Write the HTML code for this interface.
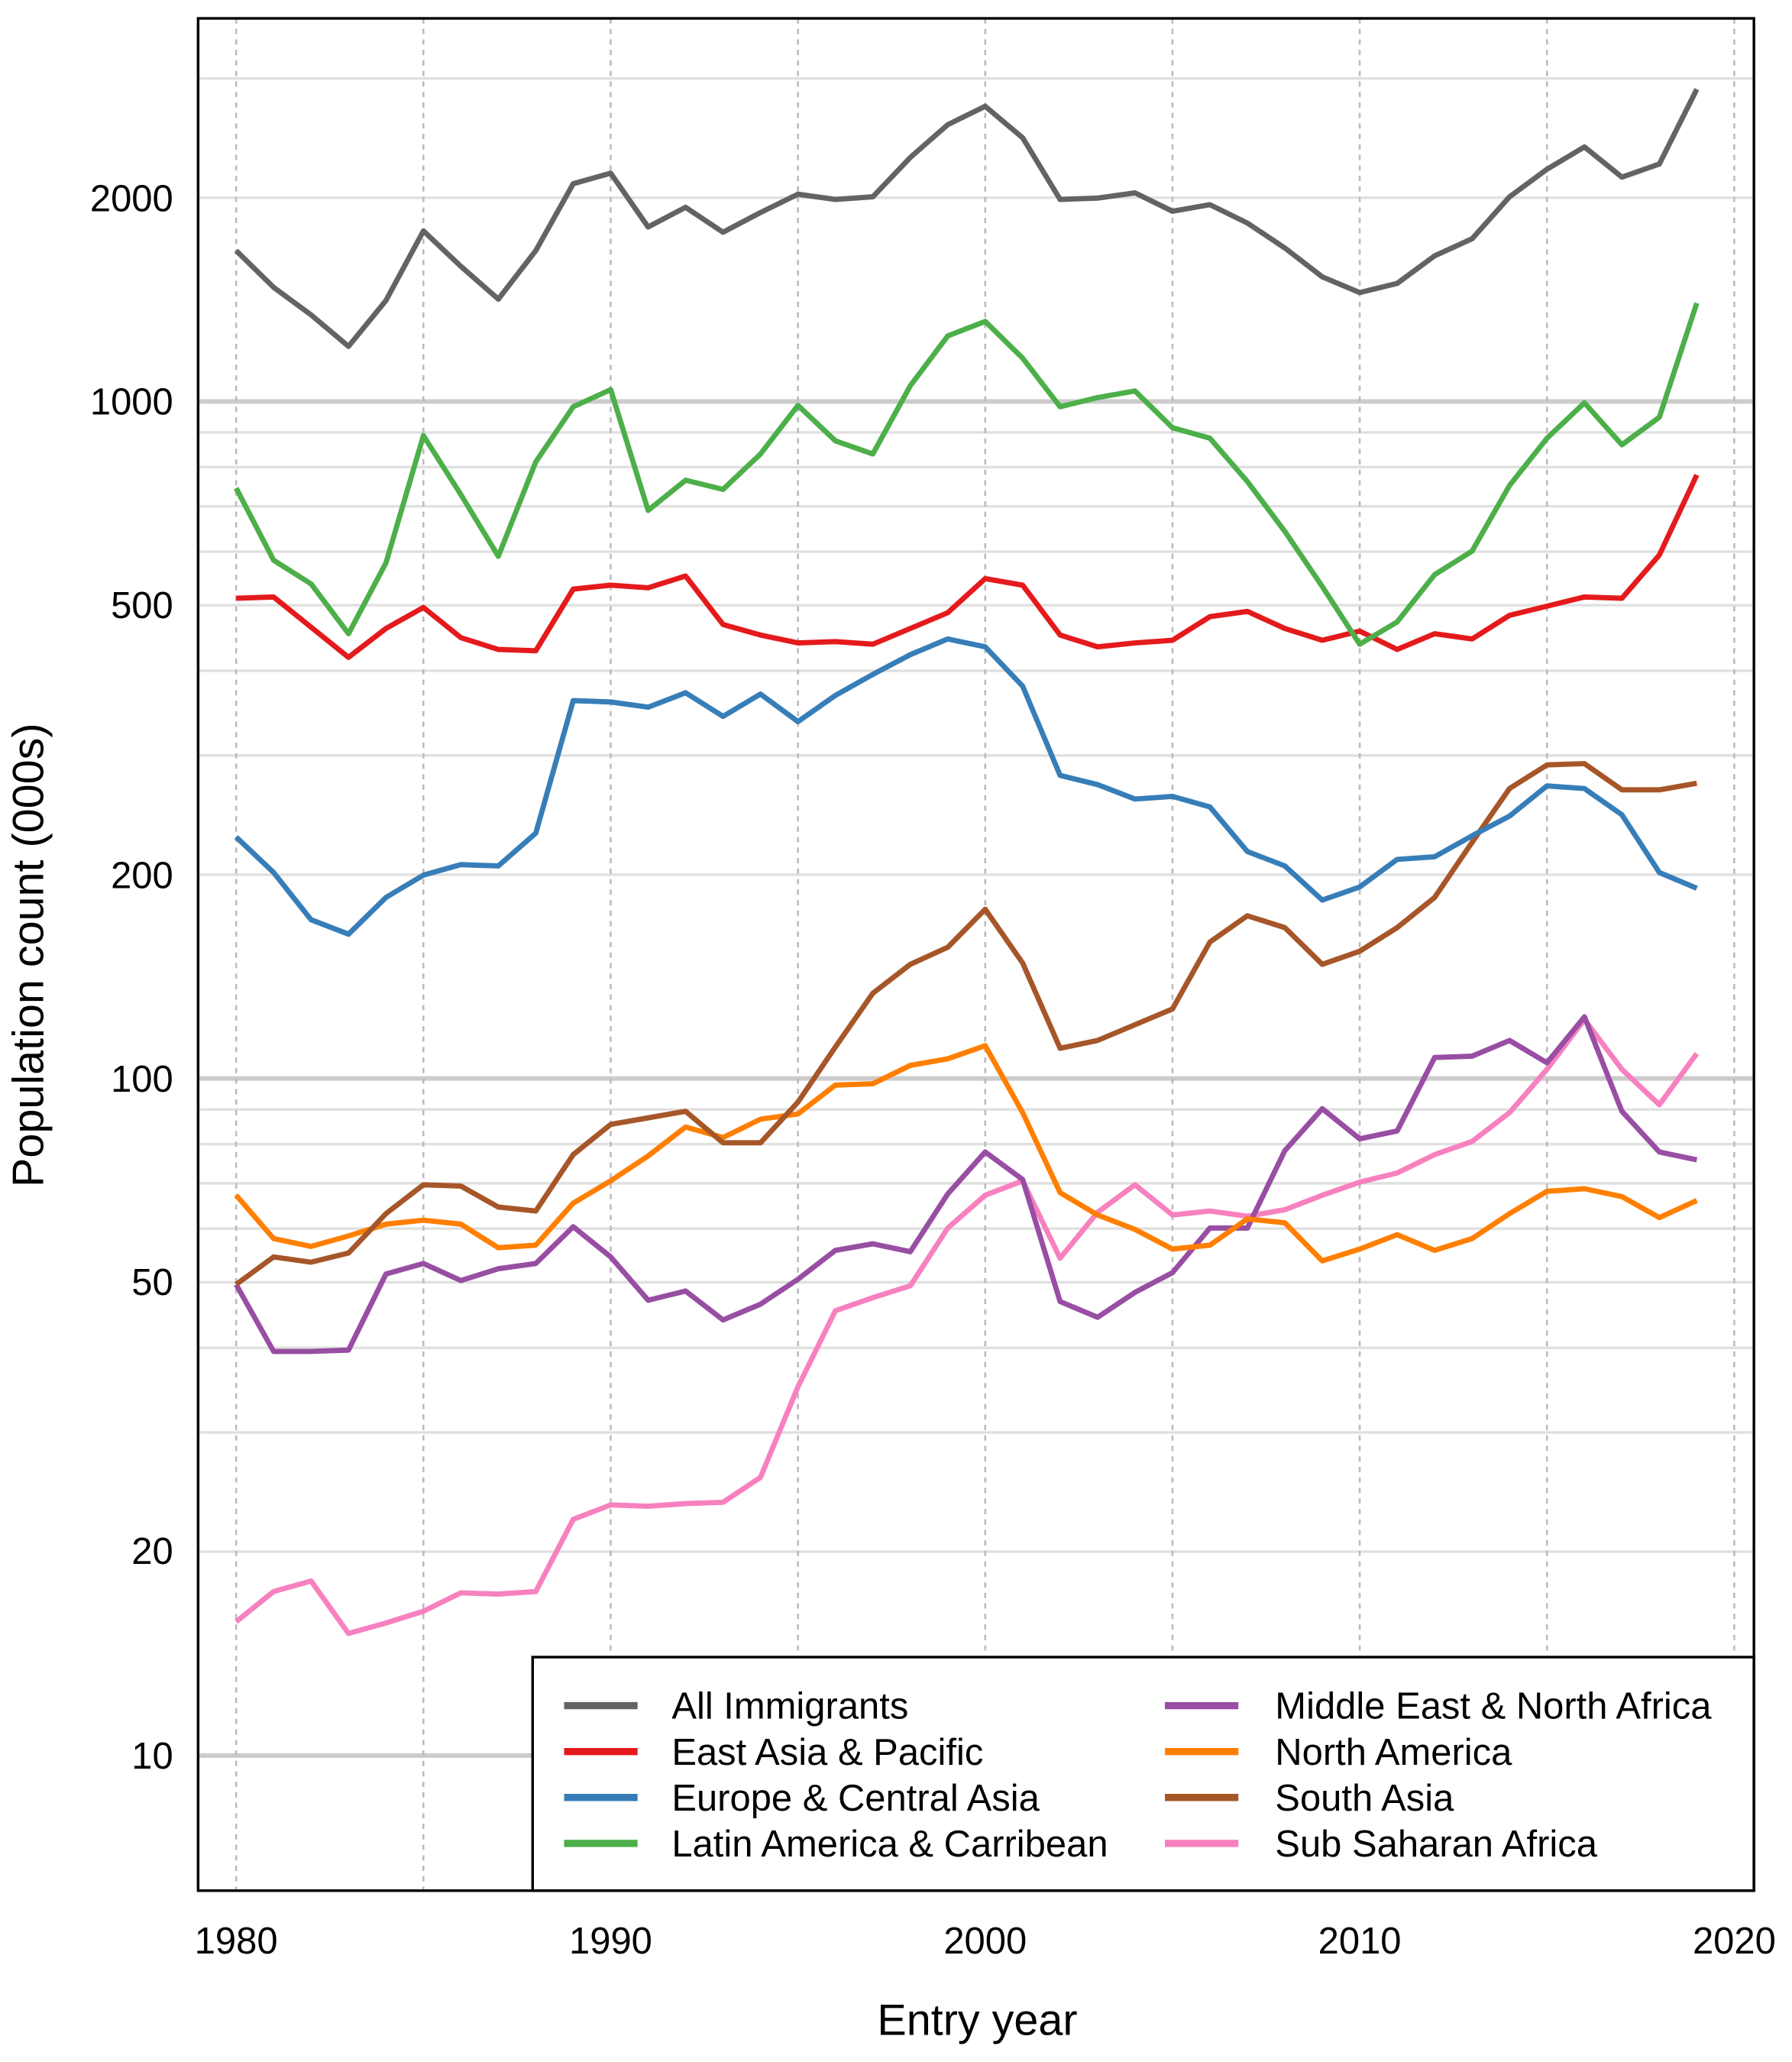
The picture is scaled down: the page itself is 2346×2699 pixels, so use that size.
<!DOCTYPE html>
<html><head><meta charset="utf-8"><style>html,body{margin:0;padding:0;background:#fff}svg{display:block}</style></head>
<body>
<svg width="2346" height="2699" viewBox="0 0 1366 1571.6" xmlns="http://www.w3.org/2000/svg" font-family="Liberation Sans, Arial, sans-serif">
<rect width="1366" height="1572" fill="#fff"/>
<g stroke="#e0e0e0" stroke-width="2">
<line x1="151" x2="1337" y1="1182.6" y2="1182.6"/><line x1="151" x2="1337" y1="1091.8" y2="1091.8"/><line x1="151" x2="1337" y1="1027.3" y2="1027.3"/><line x1="151" x2="1337" y1="977.3" y2="977.3"/><line x1="151" x2="1337" y1="936.4" y2="936.4"/><line x1="151" x2="1337" y1="901.9" y2="901.9"/><line x1="151" x2="1337" y1="872" y2="872"/><line x1="151" x2="1337" y1="845.6" y2="845.6"/>
<line x1="151" x2="1337" y1="666.7" y2="666.7"/><line x1="151" x2="1337" y1="575.8" y2="575.8"/><line x1="151" x2="1337" y1="511.3" y2="511.3"/><line x1="151" x2="1337" y1="461.3" y2="461.3"/><line x1="151" x2="1337" y1="420.4" y2="420.4"/><line x1="151" x2="1337" y1="385.9" y2="385.9"/><line x1="151" x2="1337" y1="356" y2="356"/><line x1="151" x2="1337" y1="329.6" y2="329.6"/>
<line x1="151" x2="1337" y1="150.7" y2="150.7"/><line x1="151" x2="1337" y1="59.8" y2="59.8"/>
</g>
<g stroke="#cccccc" stroke-width="3.5">
<line x1="151" x2="1337" y1="1338" y2="1338"/><line x1="151" x2="1337" y1="822" y2="822"/><line x1="151" x2="1337" y1="306" y2="306"/>
</g>
<g stroke="#bbbbbb" stroke-width="1.5" stroke-dasharray="4,4">
<line x1="180" x2="180" y1="14" y2="1441"/><line x1="322.75" x2="322.75" y1="14" y2="1441"/><line x1="465.5" x2="465.5" y1="14" y2="1441"/><line x1="608.25" x2="608.25" y1="14" y2="1441"/><line x1="751" x2="751" y1="14" y2="1441"/><line x1="893.75" x2="893.75" y1="14" y2="1441"/><line x1="1036.5" x2="1036.5" y1="14" y2="1441"/><line x1="1179.25" x2="1179.25" y1="14" y2="1441"/><line x1="1322" x2="1322" y1="14" y2="1441"/>
</g>
<rect x="406" y="1263" width="931" height="178" fill="#fff" stroke="#000" stroke-width="2"/>
<rect x="151" y="14" width="1186" height="1427" fill="none" stroke="#000" stroke-width="2"/>
<g font-size="28.5" text-anchor="end" fill="#000">
<text x="132" y="161">2000</text><text x="132" y="316">1000</text><text x="132" y="471">500</text><text x="132" y="677">200</text><text x="132" y="832">100</text><text x="132" y="987">50</text><text x="132" y="1192">20</text><text x="132" y="1348">10</text>
</g>
<g font-size="28.5" text-anchor="middle">
<text x="180" y="1489">1980</text><text x="465.5" y="1489">1990</text><text x="751" y="1489">2000</text><text x="1036.5" y="1489">2010</text><text x="1322" y="1489">2020</text>
<text x="745" y="1551" font-size="33.5">Entry year</text>
<text transform="translate(33,728) rotate(-90)" font-size="33.5">Population count (000s)</text>
</g>
<g stroke-width="5.5">
<line x1="430" x2="486" y1="1300" y2="1300" stroke="#636363"/>
<line x1="430" x2="486" y1="1335" y2="1335" stroke="#e41a1c"/>
<line x1="430" x2="486" y1="1370" y2="1370" stroke="#377eb8"/>
<line x1="430" x2="486" y1="1405" y2="1405" stroke="#4daf4a"/>
<line x1="888" x2="944" y1="1300" y2="1300" stroke="#984ea3"/>
<line x1="888" x2="944" y1="1335" y2="1335" stroke="#ff7f00"/>
<line x1="888" x2="944" y1="1370" y2="1370" stroke="#a65628"/>
<line x1="888" x2="944" y1="1405" y2="1405" stroke="#f781bf"/>
</g>
<g font-size="28.5">
<text x="512" y="1310">All Immigrants</text><text x="512" y="1345">East Asia &amp; Pacific</text><text x="512" y="1380">Europe &amp; Central Asia</text><text x="512" y="1415">Latin America &amp; Carribean</text>
<text x="972" y="1310">Middle East &amp; North Africa</text><text x="972" y="1345">North America</text><text x="972" y="1380">South Asia</text><text x="972" y="1415">Sub Saharan Africa</text>
</g>
<g fill="none" stroke-width="4" stroke-linejoin="round">
<polyline stroke="#f781bf" points="180,1236 208.55,1213 237.1,1205 265.65,1245 294.2,1237 322.75,1228 351.3,1214 379.85,1215 408.4,1213 436.95,1158 465.5,1147 494.05,1148 522.6,1146 551.15,1145 579.7,1126 608.25,1057 636.8,999 665.35,989 693.9,980 722.45,936 751,911 779.55,900 808.1,959 836.65,924 865.2,903 893.75,926 922.3,923 950.85,927 979.4,922 1007.95,911 1036.5,901 1065.05,894 1093.6,880 1122.15,870 1150.7,848 1179.25,815 1207.8,777 1236.35,815 1264.9,842 1293.45,803"/>
<polyline stroke="#984ea3" points="180,979 208.55,1030 237.1,1030 265.65,1029 294.2,971 322.75,963 351.3,976 379.85,967 408.4,963 436.95,935 465.5,958 494.05,991 522.6,984 551.15,1006 579.7,994 608.25,975 636.8,953 665.35,948 693.9,954 722.45,910 751,878 779.55,899 808.1,992 836.65,1004 865.2,985 893.75,970 922.3,936 950.85,936 979.4,877 1007.95,845 1036.5,868 1065.05,862 1093.6,806 1122.15,805 1150.7,793 1179.25,810 1207.8,775 1236.35,847 1264.9,878 1293.45,884"/>
<polyline stroke="#ff7f00" points="180,911 208.55,944 237.1,950 265.65,942 294.2,933 322.75,930 351.3,933 379.85,951 408.4,949 436.95,917 465.5,900 494.05,881 522.6,859 551.15,867 579.7,853 608.25,849 636.8,827 665.35,826 693.9,812 722.45,807 751,797 779.55,848 808.1,909 836.65,926 865.2,937 893.75,952 922.3,949 950.85,929 979.4,932 1007.95,961 1036.5,952 1065.05,941 1093.6,953 1122.15,944 1150.7,925 1179.25,908 1207.8,906 1236.35,912 1264.9,928 1293.45,915"/>
<polyline stroke="#a65628" points="180,979 208.55,958 237.1,962 265.65,955 294.2,925 322.75,903 351.3,904 379.85,920 408.4,923 436.95,880 465.5,857 494.05,852 522.6,847 551.15,871 579.7,871 608.25,840 636.8,798 665.35,757 693.9,735 722.45,722 751,693 779.55,734 808.1,799 836.65,793 865.2,781 893.75,769 922.3,718 950.85,698 979.4,707 1007.95,735 1036.5,725 1065.05,707 1093.6,684 1122.15,642 1150.7,601 1179.25,583 1207.8,582 1236.35,602 1264.9,602 1293.45,597"/>
<polyline stroke="#377eb8" points="180,638 208.55,665 237.1,701 265.65,712 294.2,684 322.75,667 351.3,659 379.85,660 408.4,635 436.95,534 465.5,535 494.05,539 522.6,528 551.15,546 579.7,529 608.25,550 636.8,530 665.35,514 693.9,499 722.45,487 751,493 779.55,523 808.1,591 836.65,598 865.2,609 893.75,607 922.3,615 950.85,649 979.4,660 1007.95,686 1036.5,676 1065.05,655 1093.6,653 1122.15,637 1150.7,622 1179.25,599 1207.8,601 1236.35,621 1264.9,665 1293.45,677"/>
<polyline stroke="#e41a1c" points="180,456 208.55,455 237.1,478 265.65,501 294.2,479 322.75,463 351.3,486 379.85,495 408.4,496 436.95,449 465.5,446 494.05,448 522.6,439 551.15,476 579.7,484 608.25,490 636.8,489 665.35,491 693.9,479 722.45,467 751,441 779.55,446 808.1,484 836.65,493 865.2,490 893.75,488 922.3,470 950.85,466 979.4,479 1007.95,488 1036.5,481 1065.05,495 1093.6,483 1122.15,487 1150.7,469 1179.25,462 1207.8,455 1236.35,456 1264.9,423 1293.45,362"/>
<polyline stroke="#4daf4a" points="180,372 208.55,427 237.1,445 265.65,483 294.2,429 322.75,332 351.3,377 379.85,424 408.4,352 436.95,310 465.5,297 494.05,389 522.6,366 551.15,373 579.7,346 608.25,309 636.8,336 665.35,346 693.9,294 722.45,256 751,245 779.55,273 808.1,310 836.65,303 865.2,298 893.75,326 922.3,334 950.85,367 979.4,405 1007.95,447 1036.5,491 1065.05,474 1093.6,438 1122.15,420 1150.7,370 1179.25,334 1207.8,307 1236.35,339 1264.9,318 1293.45,231"/>
<polyline stroke="#636363" points="180,191 208.55,219 237.1,240 265.65,264 294.2,229 322.75,176 351.3,203 379.85,228 408.4,191 436.95,140 465.5,132 494.05,173 522.6,158 551.15,177 579.7,162 608.25,148 636.8,152 665.35,150 693.9,120 722.45,95 751,81 779.55,105 808.1,152 836.65,151 865.2,147 893.75,161 922.3,156 950.85,170 979.4,189 1007.95,211 1036.5,223 1065.05,216 1093.6,195 1122.15,182 1150.7,150 1179.25,129 1207.8,112 1236.35,135 1264.9,125 1293.45,68"/>
</g>
</svg>
</body></html>
